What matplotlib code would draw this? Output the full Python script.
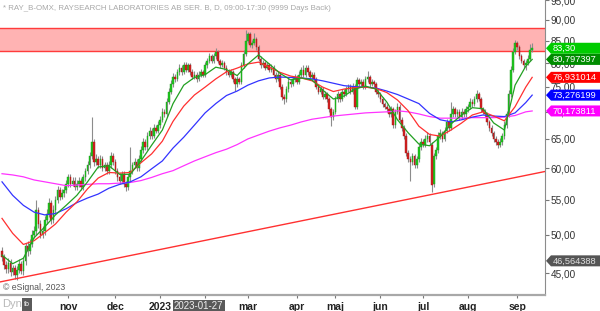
import numpy as np
import matplotlib.pyplot as plt
from matplotlib.patches import Polygon, Rectangle
from matplotlib.ticker import NullLocator, NullFormatter
from matplotlib.transforms import IdentityTransform

plt.rcParams['font.family'] = ['Liberation Sans', 'DejaVu Sans']

# daily candles, one per trading day (bar 0 = mid Sep 2022)
opens = [47.8, 47.0, 46.0, 45.5, 46.3, 45.2, 45.6, 44.8, 45.4, 46.2,
         45.3, 46.5, 48.5, 47.8, 48.8, 50.0, 50.5, 53.5, 51.5, 50.0,
         50.5, 52.0, 53.0, 54.5, 52.0, 53.5, 55.0, 56.5, 55.5, 56.0,
         56.5, 57.5, 58.5, 57.5, 58.0, 57.0, 57.5, 58.0, 57.0, 58.5,
         59.5, 60.5, 62.0, 64.5, 61.0, 61.5, 60.5, 61.5, 60.0, 60.5,
         59.5, 60.5, 62.0, 61.0, 59.5, 58.5, 58.0, 59.0, 57.5, 57.0,
         58.5, 59.5, 60.5, 61.0, 60.0, 61.5, 63.0, 64.5, 63.5, 65.5,
         66.5, 65.5, 67.0, 66.5, 67.5, 68.5, 70.0, 69.5, 72.0, 74.0,
         75.5, 77.0, 76.5, 78.0, 79.0, 78.0, 79.5, 78.5, 79.5, 78.0,
         77.0, 77.5, 76.5, 77.5, 78.0, 77.5, 79.5, 80.5, 81.5, 80.5,
         81.5, 82.5, 80.5, 79.5, 80.0, 79.0, 78.0, 77.5, 78.0, 76.5,
         75.5, 76.5, 76.0, 79.5, 82.0, 85.0, 86.5, 84.0, 84.5, 85.5,
         83.5, 81.0, 79.5, 80.0, 79.0, 79.5, 78.5, 79.0, 77.5, 76.5,
         77.5, 75.0, 73.0, 72.5, 74.5, 76.0, 75.5, 76.5, 77.0, 76.0,
         77.5, 78.5, 77.5, 79.0, 78.0, 77.0, 77.5, 76.5, 75.0, 74.0,
         74.5, 73.0, 73.5, 72.5, 70.5, 69.0, 70.0, 72.5, 73.5, 72.5,
         74.0, 73.5, 74.5, 75.0, 74.0, 75.0, 71.0, 76.3, 75.5, 76.0,
         75.0, 76.5, 77.0, 75.5, 76.0, 75.5, 74.0, 73.5, 72.5, 71.5,
         71.0, 70.5, 69.5, 70.5, 67.5, 70.0, 71.0, 68.5, 67.0, 65.5,
         62.5, 61.5, 61.0, 62.0, 60.5, 61.5, 63.5, 64.5, 64.0, 65.0,
         65.5, 64.0, 57.5, 62.0, 63.0, 65.5, 66.0, 65.0, 66.5, 68.0,
         67.0, 69.5, 70.5, 69.5, 70.0, 69.0, 70.0, 69.5, 70.5, 71.0,
         72.0, 71.5, 72.5, 73.5, 72.5, 70.5, 70.0, 69.5, 68.0, 67.0,
         66.0, 65.0, 64.5, 64.0, 64.5, 65.5, 67.5, 69.5, 73.5, 78.5,
         82.5, 84.5, 83.5, 81.5, 80.5, 79.5, 80.0, 81.0, 83.0]
closes = [47.0, 46.0, 45.5, 46.3, 45.2, 45.6, 44.8, 45.4, 46.2, 45.3,
          46.5, 48.5, 47.8, 48.8, 50.0, 50.5, 53.5, 51.5, 50.0, 50.5,
          52.0, 53.0, 54.5, 52.0, 53.5, 55.0, 56.5, 55.5, 56.0, 56.5,
          57.5, 58.5, 57.5, 58.0, 57.0, 57.5, 58.0, 57.0, 58.5, 59.5,
          60.5, 62.0, 64.5, 61.0, 61.5, 60.5, 61.5, 60.0, 60.5, 59.5,
          60.5, 62.0, 61.0, 59.5, 58.5, 58.0, 59.0, 57.5, 57.0, 58.5,
          59.5, 60.5, 61.0, 60.0, 61.5, 63.0, 64.5, 63.5, 65.5, 66.5,
          65.5, 67.0, 66.5, 67.5, 68.5, 70.0, 69.5, 72.0, 74.0, 75.5,
          77.0, 76.5, 78.0, 79.0, 78.0, 79.5, 78.5, 79.5, 78.0, 77.0,
          77.5, 76.5, 77.5, 78.0, 77.5, 79.5, 80.5, 81.5, 80.5, 81.5,
          82.5, 80.5, 79.5, 80.0, 79.0, 78.0, 77.5, 78.0, 76.5, 75.5,
          76.5, 76.0, 79.5, 82.0, 85.0, 86.5, 84.0, 84.5, 85.5, 83.5,
          81.0, 79.5, 80.0, 79.0, 79.5, 78.5, 79.0, 77.5, 76.5, 77.5,
          75.0, 73.0, 72.5, 74.5, 76.0, 75.5, 76.5, 77.0, 76.0, 77.5,
          78.5, 77.5, 79.0, 78.0, 77.0, 77.5, 76.5, 75.0, 74.0, 74.5,
          73.0, 73.5, 72.5, 70.5, 69.0, 70.0, 72.5, 73.5, 72.5, 74.0,
          73.5, 74.5, 75.0, 74.0, 75.0, 71.0, 76.3, 75.5, 76.0, 75.0,
          76.5, 77.0, 75.5, 76.0, 75.5, 74.0, 73.5, 72.5, 71.5, 71.0,
          70.5, 69.5, 70.5, 67.5, 70.0, 71.0, 68.5, 67.0, 65.5, 62.5,
          61.5, 61.0, 62.0, 60.5, 61.5, 63.5, 64.5, 64.0, 65.0, 65.5,
          64.5, 57.3, 62.0, 63.0, 65.5, 66.0, 65.0, 66.5, 68.0, 67.0,
          69.5, 70.5, 69.5, 70.0, 69.0, 70.0, 69.5, 70.5, 71.0, 72.0,
          71.5, 72.5, 73.5, 72.5, 70.5, 70.0, 69.5, 68.0, 67.0, 66.0,
          65.0, 64.5, 64.0, 64.5, 65.5, 67.5, 69.5, 73.5, 78.5, 82.5,
          84.5, 83.5, 81.5, 80.5, 79.5, 80.0, 81.0, 83.0, 83.3]
highs = [48.3, 47.4, 46.6, 46.9, 46.8, 46.1, 46.0, 45.9, 46.8, 46.5,
         47.0, 48.9, 49.2, 49.4, 50.6, 51.2, 55.0, 54.0, 52.0, 51.2,
         52.6, 53.6, 55.3, 55.0, 54.2, 55.6, 57.1, 57.0, 56.7, 57.2,
         58.1, 59.1, 59.0, 58.6, 58.5, 58.1, 58.6, 58.4, 59.1, 60.1,
         61.2, 62.8, 69.0, 65.0, 62.3, 62.0, 62.2, 62.0, 61.1, 61.0,
         61.2, 62.7, 62.6, 61.5, 60.0, 59.2, 59.6, 59.5, 58.0, 59.1,
         63.5, 61.1, 61.7, 61.5, 62.2, 63.8, 65.2, 65.0, 66.2, 67.2,
         67.0, 67.8, 67.5, 68.2, 69.2, 70.8, 70.6, 72.8, 74.8, 76.3,
         77.8, 77.6, 78.8, 79.8, 79.6, 80.3, 80.2, 80.1, 80.0, 78.6,
         78.2, 78.0, 78.3, 78.6, 78.5, 80.2, 81.2, 82.2, 82.0, 82.2,
         83.3, 83.0, 81.0, 80.6, 80.5, 79.6, 78.6, 78.7, 78.5, 77.0,
         77.2, 77.0, 80.2, 82.8, 87.6, 87.2, 87.0, 85.2, 86.8, 86.0,
         84.0, 81.6, 80.7, 80.5, 80.2, 80.0, 79.7, 79.5, 78.0, 78.2,
         78.0, 75.5, 73.5, 75.2, 76.7, 76.5, 77.2, 77.6, 77.5, 78.2,
         79.2, 79.5, 79.6, 79.5, 78.5, 78.1, 78.0, 77.0, 75.5, 75.1,
         75.0, 74.1, 74.0, 73.0, 71.0, 70.6, 73.2, 74.2, 74.0, 74.6,
         74.5, 75.2, 75.6, 75.5, 75.7, 75.5, 77.0, 76.8, 76.6, 76.5,
         77.2, 78.2, 77.5, 76.6, 76.4, 76.0, 74.5, 74.0, 73.0, 72.0,
         71.5, 71.0, 71.2, 71.0, 70.6, 71.7, 71.5, 69.0, 67.5, 66.0,
         63.0, 62.0, 62.6, 62.4, 62.1, 64.2, 65.2, 65.0, 65.7, 66.2,
         66.0, 64.5, 62.6, 63.6, 66.2, 66.7, 66.5, 67.2, 68.7, 68.5,
         72.0, 71.2, 71.0, 70.6, 70.5, 70.7, 70.5, 71.2, 71.6, 72.7,
         72.5, 73.2, 74.3, 74.0, 73.0, 71.0, 70.5, 70.0, 68.5, 67.5,
         66.5, 65.5, 65.0, 65.1, 66.0, 68.2, 70.2, 74.3, 79.3, 83.3,
         85.3, 85.0, 84.0, 82.0, 81.0, 80.6, 81.7, 84.3, 84.5]
lows = [46.5, 45.5, 45.0, 45.1, 44.7, 44.8, 44.3, 44.2, 45.0, 44.9,
        44.8, 46.1, 47.2, 47.4, 48.3, 49.5, 50.0, 51.0, 49.5, 49.6,
        50.0, 51.5, 52.5, 51.5, 51.6, 53.0, 54.5, 55.0, 55.1, 55.5,
        56.0, 57.0, 57.0, 57.1, 56.5, 56.6, 57.0, 56.5, 56.6, 58.0,
        59.0, 60.0, 61.5, 60.4, 60.5, 60.0, 60.1, 59.5, 59.6, 59.0,
        59.1, 60.0, 60.5, 59.0, 58.0, 57.5, 57.6, 57.0, 56.4, 56.6,
        58.0, 59.0, 60.0, 59.5, 59.6, 61.0, 62.5, 63.0, 63.1, 65.0,
        65.0, 65.1, 66.0, 66.1, 67.0, 68.0, 69.0, 69.1, 71.5, 73.5,
        75.0, 76.0, 76.1, 77.5, 77.4, 77.6, 78.0, 78.1, 77.5, 76.5,
        76.5, 76.0, 76.1, 77.0, 77.0, 77.1, 79.0, 80.0, 80.0, 80.1,
        81.0, 80.0, 79.0, 79.1, 78.5, 77.5, 77.0, 77.1, 76.0, 74.2,
        75.0, 75.5, 75.6, 79.0, 81.5, 84.4, 83.5, 83.4, 84.0, 83.0,
        80.5, 79.0, 79.1, 78.5, 78.6, 78.0, 78.1, 77.0, 76.0, 76.1,
        74.5, 72.4, 71.5, 72.0, 74.0, 75.0, 75.1, 76.0, 75.5, 75.6,
        77.0, 77.0, 77.1, 77.5, 76.5, 76.6, 76.0, 74.5, 73.5, 73.6,
        72.5, 72.6, 72.0, 70.0, 67.4, 68.5, 69.5, 72.0, 72.0, 72.1,
        73.0, 73.1, 74.0, 73.5, 73.6, 70.5, 70.5, 75.0, 75.1, 74.5,
        74.6, 76.0, 75.0, 75.1, 75.0, 73.5, 73.0, 72.0, 71.0, 70.5,
        70.0, 69.0, 69.0, 67.0, 67.0, 69.5, 68.0, 66.5, 65.0, 62.0,
        61.0, 58.0, 60.5, 60.0, 60.1, 61.0, 63.0, 63.5, 63.6, 64.5,
        64.0, 56.2, 57.0, 61.5, 62.5, 65.0, 64.5, 64.6, 66.0, 66.5,
        66.6, 69.0, 69.0, 69.1, 68.5, 68.6, 69.0, 69.1, 70.0, 70.5,
        71.0, 71.1, 72.0, 72.1, 70.0, 69.5, 69.0, 67.5, 66.5, 65.5,
        64.5, 64.0, 63.4, 63.5, 64.0, 65.0, 67.0, 69.0, 73.0, 78.0,
        82.0, 83.0, 81.0, 80.0, 79.0, 78.5, 79.5, 80.5, 82.5]

# moving averages read every 5th bar (last point = last bar)
ma_idx = list(range(0, 250, 5)) + [248]
ma_green = [47.3, 46.2, 46.9, 49.6, 51.1, 52.8, 54.2, 55.7, 57.8, 60.2,
            60.4, 59.0, 59.0, 61.2, 63.9, 66.6, 71.6, 75.3, 76.9, 77.5,
            79.1, 78.6, 77.3, 79.8, 81.8, 79.8, 77.8, 76.4, 76.8, 76.4,
            74.3, 72.5, 73.1, 74.5, 75.1, 74.5, 71.9, 68.5, 66.1, 64.1,
            63.8, 65.4, 67.7, 69.4, 70.8, 70.6, 67.9, 66.6, 75.3, 79.3, 80.80]
ma_red = [52.3, 50.2, 48.7, 49.2, 50.3, 51.5, 53.2, 54.7, 56.7, 58.4,
          59.3, 59.2, 59.3, 60.9, 62.4, 64.6, 68.2, 71.1, 73.3, 74.9,
          76.6, 78.1, 78.9, 79.8, 80.2, 79.1, 78.0, 77.2, 76.8, 76.2,
          74.9, 74.0, 74.5, 74.8, 74.9, 74.6, 73.8, 72.3, 70.2, 67.3,
          65.8, 65.5, 66.6, 67.9, 69.4, 70.0, 69.2, 68.3, 71.0, 74.9, 76.93]
ma_blue = [57.8, 55.7, 54.2, 53.2, 52.8, 53.0, 53.7, 54.6, 55.3, 55.9,
           56.8, 57.4, 57.8, 58.6, 59.9, 61.2, 63.4, 65.3, 67.5, 69.8,
           71.6, 73.2, 74.1, 75.3, 76.2, 76.8, 77.0, 76.9, 76.8, 76.6,
           76.2, 75.7, 75.2, 75.0, 74.9, 74.7, 74.1, 73.4, 72.5, 71.6,
           69.7, 68.5, 68.1, 68.5, 69.0, 69.4, 69.2, 69.1, 69.8, 71.8, 73.28]
ma_magenta = [59.1, 58.9, 58.6, 58.1, 57.8, 57.5, 57.2, 57.3, 57.4, 57.5,
              57.5, 57.6, 57.7, 58.0, 58.5, 59.1, 59.6, 60.4, 61.2, 61.9,
              62.6, 63.2, 64.0, 65.0, 65.7, 66.4, 67.0, 67.5, 68.1, 68.6,
              68.9, 69.2, 69.4, 69.6, 69.8, 69.9, 70.0, 70.2, 70.0, 69.6,
              69.1, 68.8, 68.8, 68.8, 68.9, 68.9, 68.9, 69.0, 69.3, 70.0, 70.17]

trend_x = [-1, 254]
trend_y = [43.95, 59.46]
zone_lo, zone_hi = 82.75, 88.0

month_pos = [31, 53, 74, 95, 115, 138, 156, 177, 197, 218, 241]
month_labels = ['nov', 'dec', '2023', '', 'mar', 'apr', 'maj', 'jun', 'jul', 'aug', 'sep']
cursor_bar, cursor_label = 92, '2023-01-27'

yticks = [45, 50, 55, 60, 65, 70, 75, 80, 85, 90, 95]
tag_values = [83.30, 80.797397, 76.931014, 73.276199, 70.173811, 46.564388]
tag_texts = ['83,30', '80,797397', '76,931014', '73,276199', '70,173811', '46,564388']
tag_colors = ['#00cc00', '#008c00', '#ff0000', '#0000ff', '#ff00ff', '#555555']

fig = plt.figure(figsize=(6, 3.11), dpi=100)
ax = fig.add_axes([0, 16 / 311, 545 / 600, 295 / 311])
ax.set_yscale('log')
ax.set_xlim(-0.94, 254.0)
ax.set_ylim(42.41, 95.06)

# resistance zone
ax.axhspan(zone_lo, zone_hi, color='#ffb3b3', zorder=1, lw=0)
ax.axhline(zone_lo, color='#ff3b3b', lw=1, zorder=2)
ax.axhline(zone_hi, color='#ff3b3b', lw=1, zorder=2)

# candles
idx = np.arange(len(closes))
o = np.array(opens)
c = np.array(closes)
up = c >= o
ax.vlines(idx, lows, highs, color='#8c8c8c', lw=0.8, zorder=3)
ax.bar(idx[up], (c - o)[up], bottom=o[up], width=0.75, color='#1ec81e',
       edgecolor='#1a9a1a', lw=0.3, zorder=4)
ax.bar(idx[~up], (o - c)[~up], bottom=c[~up], width=0.75, color='#d42020',
       edgecolor='#a01818', lw=0.3, zorder=4)

# moving averages and trend line
ax.plot(ma_idx, ma_magenta, color='#ff33ff', lw=0.9, zorder=5)
ax.plot(ma_idx, ma_blue, color='#3333ff', lw=0.9, zorder=5)
ax.plot(ma_idx, ma_red, color='#ff3030', lw=0.9, zorder=5)
ax.plot(ma_idx, ma_green, color='#22a022', lw=0.9, zorder=5)
ax.plot(trend_x, trend_y, color='#ff3030', lw=1.0, zorder=5)

# axes styling
for s in ['top', 'left']:
    ax.spines[s].set_visible(False)
ax.spines['right'].set_color('#8c8c8c')
ax.spines['bottom'].set_color('#a8a8a8')
ax.spines['bottom'].set_linewidth(1.6)
ax.yaxis.tick_right()
ax.set_yticks(yticks)
ax.set_yticklabels([f'{v:.2f}'.replace('.', ',') for v in yticks])
ax.yaxis.set_minor_locator(NullLocator())
ax.yaxis.set_minor_formatter(NullFormatter())
ax.tick_params(axis='y', length=3, width=0.8, color='#777777', labelsize=7.2,
               labelcolor='#333333', pad=1)
ax.set_xticks(month_pos)
ax.set_xticklabels(month_labels)
ax.tick_params(axis='x', length=2, width=0.8, color='#777777', labelsize=7.5,
               labelcolor='#222222', pad=3)
for lbl in ax.get_xticklabels():
    lbl.set_fontweight('bold')

ax.text(cursor_bar, -11 / 295, cursor_label, transform=ax.get_xaxis_transform(),
        ha='center', va='center', fontsize=6.9, color='#f0f0f0',
        bbox=dict(boxstyle='square,pad=0.12', fc='#5a5a5a', ec='none'))

# value tags on the right edge
for v, t, col in zip(tag_values, tag_texts, tag_colors):
    yd = ax.transData.transform((0, v))[1]
    pts = [(546, yd), (551, yd + 5.5), (600, yd + 5.5), (600, yd - 5.5), (551, yd - 5.5)]
    fig.add_artist(Polygon(pts, closed=True, transform=IdentityTransform(),
                           fc=col, ec='none', zorder=10))
    fig.text(553, yd, t, transform=IdentityTransform(), ha='left', va='center',
             fontsize=6.7, color='white' if col != '#555555' else '#e0e0e0', zorder=11)

fig.text(3 / 600, 1 - 9 / 311,
         '* RAY_B-OMX, RAYSEARCH LABORATORIES AB SER. B, D, 09:00-17:30 (9999 Days Back)',
         fontsize=5.7, color='#a8a8a8', va='center', ha='left')
fig.text(3 / 600, 1 - 287 / 311, '\u00a9 eSignal, 2023', fontsize=6.3,
         color='#555555', va='center', ha='left')
fig.text(2 / 600, 1 - 304 / 311, 'Dyn', fontsize=8, color='#b8b8b8',
         va='center', ha='left')
fig.add_artist(Rectangle((22 / 600, 1 - 311 / 311), 10 / 600, 13 / 311,
                         transform=fig.transFigure, fc='#5a5a5a', ec='none'))
fig.text(27 / 600, 1 - 304 / 311, 'fb', fontsize=5, color='white',
         va='center', ha='center')

fig.savefig('out.png', dpi=100)
